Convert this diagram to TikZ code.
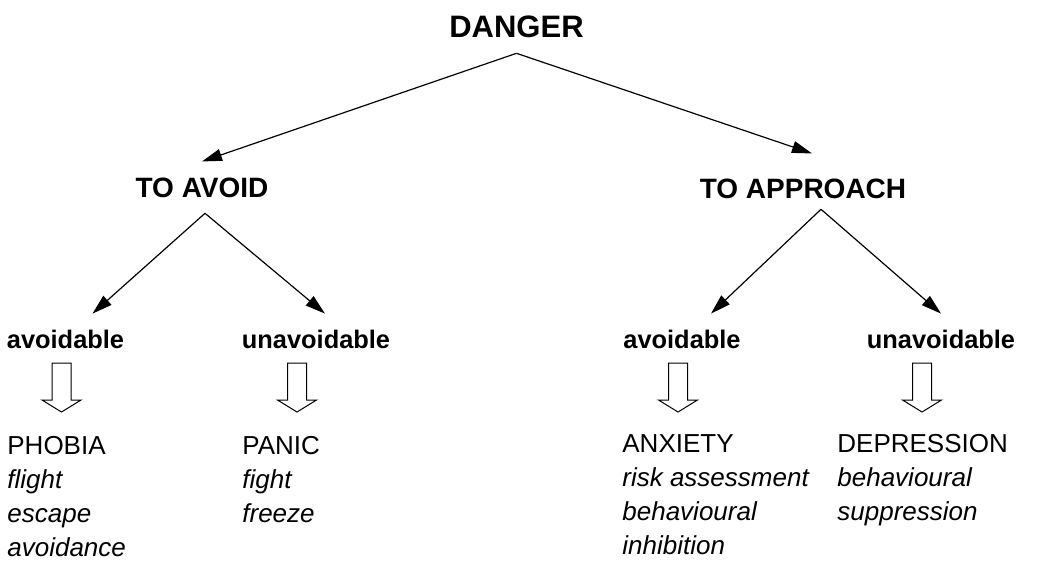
\documentclass[tikz,border=0pt]{standalone}
\usepackage{fontspec}
\setmainfont{Liberation Sans}
\usepackage{tikz}
\usetikzlibrary{arrows.meta}
\usetikzlibrary{positioning}
\tikzstyle{top_heading} = [font=\fontsize{15.5}{18}\selectfont\bfseries, inner sep=0pt, outer sep=8pt, anchor=base]
\tikzstyle{heading} = [font=\fontsize{14}{17}\selectfont\bfseries, inner sep=0pt, outer sep=8pt, anchor=base]
\tikzstyle{choice} = [font=\fontsize{12.7}{15}\selectfont\bfseries, inner sep=0pt, outer sep=8pt, anchor=base]
\tikzstyle{outcome} = [font=\fontsize{13}{17}\selectfont, align=left, inner sep=0pt, anchor=north west]
\tikzstyle{branch} = [line width=0.6pt, -{Triangle[length=10pt, width=6pt]}]
\tikzstyle{hollow} = [line width=0.5pt, fill=white]

\begin{document}
\begin{tikzpicture}[x=0.5pt, y=-0.5pt]

    \useasboundingbox (0, 0) rectangle (1045, 564);

    \node (danger) [top_heading] at (516.5, 37) {DANGER};
    \node (toavoid) [heading] at (202, 197) {TO AVOID};
    \node (toapproach) [heading] at (803, 198) {TO APPROACH};

    \node (avoid1) [choice] at (65.5, 348) {avoidable};
    \node (unavoid1) [choice] at (316, 348) {unavoidable};
    \node (avoid2) [choice] at (682, 348) {avoidable};
    \node (unavoid2) [choice] at (941, 348) {unavoidable};

    \node (phobia) [outcome] at (7, 436) {PHOBIA\\\textit{flight}\\\textit{escape}\\\textit{avoidance}};
    \node (panic) [outcome] at (242, 436) {PANIC\\\textit{fight}\\\textit{freeze}};
    \node (anxiety) [outcome] at (622, 434) {ANXIETY\\\textit{risk assessment}\\\textit{behavioural}\\\textit{inhibition}};
    \node (depression) [outcome] at (837, 434) {DEPRESSION\\\textit{behavioural}\\\textit{suppression}};

    \draw [branch] (danger.south) -- (toavoid.north);
    \draw [branch] (danger.south) -- ([xshift=4.5pt, yshift=4.5pt]toapproach.north);

    \draw [branch] ([xshift=1.5pt]toavoid.south) -- ([xshift=13.5pt]avoid1.north);
    \draw [branch] ([xshift=1.5pt]toavoid.south) -- ([xshift=4.5pt]unavoid1.north);
    \draw [branch] ([xshift=9pt, yshift=2.5pt]toapproach.south) -- ([xshift=14.5pt]avoid2.north);
    \draw [branch] ([xshift=9pt, yshift=2.5pt]toapproach.south) -- (unavoid2.north);

    \foreach \x in {61.5, 297, 678, 922}
        \draw [hollow] (\x-9.5, 363) -- (\x+9.5, 363) -- (\x+9.5, 400) -- (\x+19.5, 400)
            -- (\x, 412) -- (\x-19.5, 400) -- (\x-9.5, 400) -- cycle;

\end{tikzpicture}
\end{document}
